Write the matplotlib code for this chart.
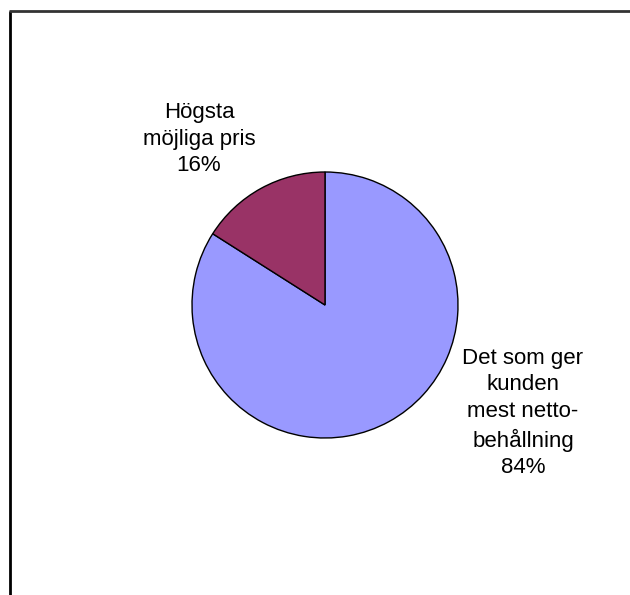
import matplotlib
matplotlib.use('Agg')
import matplotlib.pyplot as plt

labels = ['Det som ger\nkunden\nmest netto-\nbehållning', 'Högsta\nmöjliga pris']
values = [84, 16]
colors = ['#9999FF', '#993366']

W, H = 630, 595
fig = plt.figure(figsize=(W / 100, H / 100), dpi=100)
ax = fig.add_axes([0, 0, 1, 1])

# pie, clockwise from 12 o'clock
ax.pie(values, colors=colors, startangle=90, counterclock=False,
       center=(325, H - 305), radius=133, frame=True,
       wedgeprops=dict(edgecolor='black', linewidth=1.0))
ax.set_xlim(0, W)
ax.set_ylim(0, H)
ax.axis('off')

label_pos = [(523, H - 413), (199, H - 139)]
for lab, v, (x, y) in zip(labels, values, label_pos):
    ax.text(x, y, '%s\n%d%%' % (lab, v), ha='center', va='center',
            fontsize=16, family='Liberation Sans', linespacing=1.35)

# chart area border (only left and top visible)
ax.plot([10, 10], [0, H - 11], color='black', lw=2, solid_capstyle='butt')
ax.plot([9, W], [H - 11, H - 11], color='#333333', lw=2, solid_capstyle='butt')

fig.savefig('out.png', dpi=100)
